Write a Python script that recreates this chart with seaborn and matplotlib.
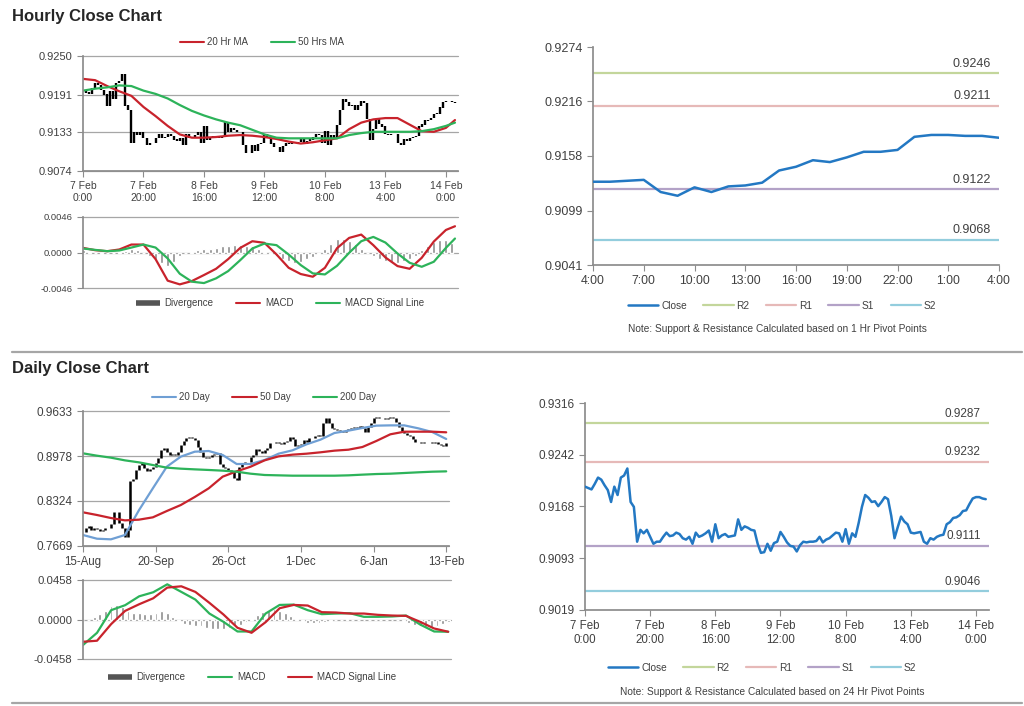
import numpy as np
import matplotlib
matplotlib.use("Agg")
import matplotlib.pyplot as plt
from matplotlib.lines import Line2D
import seaborn as sns

sns.set_theme(style="white")
plt.rcParams["font.family"] = ["Liberation Sans", "DejaVu Sans"]

W, H = 1024, 706

# ---------------- hourly data (7 Feb 0:00 -> 14 Feb ~3:00) ----------------
hourly_close = [
    0.9196, 0.9194, 0.9192, 0.9200, 0.9209, 0.9206, 0.9198, 0.9191, 0.9174, 0.9196,
    0.9184, 0.9209, 0.9212, 0.9222, 0.9174, 0.9167, 0.9117, 0.9134, 0.9129, 0.9134,
    0.9124, 0.9114, 0.9117, 0.9117, 0.9124, 0.9130, 0.9125, 0.9126, 0.9130, 0.9128,
    0.9122, 0.9120, 0.9124, 0.9114, 0.9130, 0.9124, 0.9126, 0.9129, 0.9133, 0.9117,
    0.9142, 0.9122, 0.9126, 0.9128, 0.9124, 0.9125, 0.9126, 0.9149, 0.9134, 0.9139,
    0.9137, 0.9134, 0.9133, 0.9114, 0.9101, 0.9102, 0.9114, 0.9104, 0.9115, 0.9117,
    0.9131, 0.9124, 0.9116, 0.9111, 0.9110, 0.9103, 0.9112, 0.9117, 0.9116, 0.9117,
    0.9117, 0.9118, 0.9124, 0.9116, 0.9120, 0.9122, 0.9126, 0.9130, 0.9129, 0.9117,
    0.9135, 0.9114, 0.9129, 0.9124, 0.9144, 0.9167, 0.9184, 0.9180, 0.9174, 0.9175,
    0.9168, 0.9174, 0.9181, 0.9178, 0.9154, 0.9122, 0.9138, 0.9153, 0.9146, 0.9142,
    0.9130, 0.9129, 0.9130, 0.9131, 0.9117, 0.9114, 0.9122, 0.9120, 0.9124, 0.9126,
    0.9127, 0.9142, 0.9145, 0.9151, 0.9152, 0.9155, 0.9161, 0.9162, 0.9171, 0.9179,
    0.9181, 0.9181, 0.9179, 0.9178]
hourly_idx = np.arange(len(hourly_close))

ma_hours = [0, 4, 8, 12, 16, 20, 24, 28, 32, 36, 40, 44, 48, 52, 56, 60,
            64, 68, 72, 76, 80, 84, 88, 92, 96, 100, 104, 108, 112, 116, 120, 123]
ma20_hr = [0.9215, 0.9213, 0.9204, 0.9196, 0.9189, 0.9172, 0.9158, 0.9143, 0.9130, 0.9125,
           0.9125, 0.9126, 0.9128, 0.9129, 0.9128, 0.9126, 0.9123, 0.9119, 0.9116, 0.9118,
           0.9121, 0.9124, 0.9138, 0.9148, 0.9153, 0.9155, 0.9155, 0.9145, 0.9135, 0.9134,
           0.9140, 0.9152]
ma50_hr = [0.9197, 0.9200, 0.9202, 0.9205, 0.9204, 0.9197, 0.9192, 0.9185, 0.9175, 0.9166,
           0.9159, 0.9153, 0.9148, 0.9144, 0.9137, 0.9130, 0.9125, 0.9124, 0.9124, 0.9124,
           0.9124, 0.9124, 0.9129, 0.9132, 0.9134, 0.9134, 0.9134, 0.9134, 0.9135, 0.9138,
           0.9143, 0.9148]
macd_hr = [0.00060, 0.00030, 0.00017, 0.00039, 0.00103, 0.00103, -0.00086, -0.00365,
           -0.00413, -0.00370, -0.00292, -0.00211, -0.00086, 0.00060, 0.00146, 0.00125,
           -0.00026, -0.00198, -0.00279, -0.00314, -0.00198, 0.00056, 0.00189, 0.00232,
           0.00095, -0.00064, -0.00176, -0.00211, -0.00069, 0.00142, 0.00292, 0.00340]
signal_hr = [0.00052, 0.00034, 0.00017, 0.00026, 0.00064, 0.00103, 0.00064, -0.00077,
             -0.00275, -0.00378, -0.00396, -0.00335, -0.00241, -0.00099, 0.00052, 0.00116,
             0.00095, -0.00026, -0.00163, -0.00271, -0.00284, -0.00172, -0.00004, 0.00146,
             0.00202, 0.00129, -0.00013, -0.00133, -0.00185, -0.00120, 0.00060, 0.00181]
div_hours = list(range(0, 124, 2))
div_hr = [0.0003, 0.0001, -0.0001, -0.0002, -0.0001, 0.0000, 0.0001, 0.0002, 0.0004, 0.0003,
          0.0000, -0.0004, -0.0009, -0.0014, -0.0018, -0.0012, -0.0005, -0.0001, 0.0001, 0.0003,
          0.0004, 0.0005, 0.0006, 0.0008, 0.0009, 0.0010, 0.0010, 0.0009, 0.0008, 0.0004,
          0.0001, -0.0002, -0.0005, -0.0008, -0.0011, -0.0013, -0.0012, -0.0009, -0.0006, -0.0002,
          0.0004, 0.0011, 0.0017, 0.0017, 0.0015, 0.0011, 0.0005, 0.0000, -0.0004, -0.0008,
          -0.0011, -0.0012, -0.0013, -0.0011, -0.0008, -0.0004, 0.0003, 0.0009, 0.0014, 0.0016,
          0.0016, 0.0012]
hour_ticks = [0, 20, 40, 60, 80, 100, 120]
hour_labels = ["7 Feb\n0:00", "7 Feb\n20:00", "8 Feb\n16:00", "9 Feb\n12:00",
               "10 Feb\n8:00", "13 Feb\n4:00", "14 Feb\n0:00"]

# last 24 hours (4:00 -> 4:00)
last24_close = [0.9130, 0.9130, 0.9131, 0.9132, 0.9119, 0.9115, 0.9124, 0.9119, 0.9125,
                0.9126, 0.9129, 0.9142, 0.9146, 0.9153, 0.9151, 0.9156, 0.9162, 0.9162,
                0.9164, 0.9178, 0.9180, 0.9180, 0.9179, 0.9179, 0.9177]
last24_labels = ["4:00", "7:00", "10:00", "13:00", "16:00", "19:00", "22:00", "1:00", "4:00"]

pivot_names = ["R2", "R1", "S1", "S2"]
pivots_1hr = [0.9246, 0.9211, 0.9122, 0.9068]
pivots_24hr = [0.9287, 0.9232, 0.9111, 0.9046]
pivot_colors = ["#c3d69b", "#e6b9b8", "#b3a2c7", "#93cddd"]

# ---------------- daily data (15-Aug -> 13-Feb) ----------------
daily_close = [
    0.7877, 0.7936, 0.7955, 0.7906, 0.7926, 0.7916, 0.7887, 0.7906, 0.7926, 0.7936,
    0.7984, 0.8168, 0.8168, 0.7999, 0.7926, 0.7805, 0.7902, 0.8615, 0.8644, 0.8775,
    0.8847, 0.8872, 0.8799, 0.8760, 0.8789, 0.8823, 0.8872, 0.8944, 0.9066, 0.9090,
    0.9032, 0.8993, 0.9012, 0.8993, 0.9041, 0.9138, 0.9197, 0.9235, 0.9260, 0.9245,
    0.9211, 0.9114, 0.9041, 0.8969, 0.8944, 0.8969, 0.8993, 0.9003, 0.9017, 0.8857,
    0.8823, 0.8799, 0.8775, 0.8741, 0.8663, 0.8629, 0.8823, 0.8872, 0.8886, 0.8896,
    0.8969, 0.8993, 0.9080, 0.9051, 0.9017, 0.9066, 0.9100, 0.9162, 0.9162, 0.9187,
    0.9162, 0.9158, 0.9177, 0.9197, 0.9260, 0.9226, 0.9129, 0.9138, 0.9148, 0.9211,
    0.9177, 0.9245, 0.9235, 0.9274, 0.9284, 0.9274, 0.9454, 0.9526, 0.9454, 0.9391,
    0.9371, 0.9352, 0.9342, 0.9332, 0.9357, 0.9371, 0.9381, 0.9405, 0.9391, 0.9410,
    0.9381, 0.9332, 0.9405, 0.9454, 0.9526, 0.9551, 0.9536, 0.9526, 0.9517, 0.9526,
    0.9546, 0.9526, 0.9468, 0.9405, 0.9342, 0.9308, 0.9284, 0.9274, 0.9226, 0.9177,
    0.9177, 0.9162, 0.9177, 0.9177, 0.9177, 0.9162, 0.9187, 0.9148, 0.9138, 0.9129,
    0.9162]
daily_idx = np.arange(len(daily_close))

ma_days = list(range(0, 131, 5))
ma20_day = [0.7829, 0.7775, 0.7766, 0.7829, 0.8188, 0.8508, 0.8823, 0.8969, 0.9041, 0.9051,
            0.8993, 0.8862, 0.8862, 0.8920, 0.9012, 0.9061, 0.9148, 0.9216, 0.9313, 0.9347,
            0.9386, 0.9420, 0.9424, 0.9424, 0.9381, 0.9327, 0.9226]
ma50_day = [0.8159, 0.8120, 0.8076, 0.8042, 0.8052, 0.8086, 0.8178, 0.8265, 0.8382, 0.8508,
            0.8678, 0.8755, 0.8823, 0.8915, 0.8973, 0.8998, 0.9012, 0.9032, 0.9056, 0.9070,
            0.9109, 0.9197, 0.9294, 0.9332, 0.9332, 0.9332, 0.9323]
ma200_day = [0.9017, 0.8983, 0.8954, 0.8915, 0.8886, 0.8847, 0.8809, 0.8794, 0.8784, 0.8775,
             0.8765, 0.8750, 0.8721, 0.8702, 0.8697, 0.8692, 0.8692, 0.8692, 0.8692, 0.8697,
             0.8707, 0.8716, 0.8721, 0.8731, 0.8741, 0.8750, 0.8755]
macd_day = [-0.0296, -0.0154, 0.0108, 0.0166, 0.0269, 0.0316, 0.0408, 0.0320, 0.0231, 0.0069,
            -0.0027, -0.0139, -0.0139, 0.0069, 0.0169, 0.0173, 0.0108, 0.0062, 0.0069, 0.0073,
            0.0031, 0.0031, 0.0035, 0.0046, -0.0058, -0.0139, -0.0142]
signal_day = [-0.0258, -0.0246, -0.0054, 0.0100, 0.0177, 0.0246, 0.0370, 0.0385, 0.0320, 0.0193,
              0.0058, -0.0096, -0.0154, -0.0031, 0.0131, 0.0169, 0.0162, 0.0085, 0.0081, 0.0069,
              0.0069, 0.0054, 0.0046, 0.0042, -0.0027, -0.0104, -0.0142]
div_days = list(range(0, 131, 2))
div_day = [-0.001, 0.000, 0.003, 0.006, 0.010, 0.016, 0.017, 0.014, 0.010, 0.008,
           0.007, 0.006, 0.006, 0.007, 0.010, 0.008, 0.003, -0.002, -0.005, -0.006,
           -0.007, -0.008, -0.010, -0.011, -0.011, -0.011, -0.010, -0.008, -0.006, -0.003,
           0.001, 0.005, 0.009, 0.011, 0.012, 0.010, 0.007, 0.004, 0.001, -0.002,
           -0.004, -0.004, -0.004, -0.003, -0.002, -0.001, 0.000, 0.001, 0.000, -0.001,
           -0.001, -0.001, -0.001, -0.001, -0.001, -0.001, -0.001, -0.002, -0.004, -0.006,
           -0.008, -0.009, -0.009, -0.008, -0.005, -0.003]
day_ticks = [0, 26, 52, 78, 104, 130]
day_labels = ["15-Aug", "20-Sep", "26-Oct", "1-Dec", "6-Jan", "13-Feb"]

RED = "#c8232c"
GREEN = "#2db35a"
BLUE = "#2378c3"
LBLUE = "#6f9fd4"
GREY_TXT = "#404040"

fig = plt.figure(figsize=(W / 100, H / 100), dpi=100)


def px_axes(x0, y0, x1, y1):
    return fig.add_axes([x0 / W, 1 - y1 / H, (x1 - x0) / W, (y1 - y0) / H])


def style(ax, fs, grid=True, xticks=True):
    for s in ["top", "right"]:
        ax.spines[s].set_visible(False)
    ax.spines["left"].set_color("#8c8c8c")
    ax.spines["bottom"].set_color("#8c8c8c")
    ax.tick_params(axis="both", colors="#8c8c8c", labelcolor=GREY_TXT, labelsize=fs,
                   direction="out", length=4, width=0.8, left=True, bottom=xticks)
    if grid:
        ax.yaxis.grid(True, color="#a6a6a6", lw=0.9)
        ax.set_axisbelow(True)
        for gl in ax.get_ygridlines():
            gl.set_clip_on(False)
    ax.set_xlabel("")
    ax.set_ylabel("")


def bars(ax, x, close, lw):
    close = np.asarray(close)
    opens = np.r_[close[0], close[:-1]]
    ax.vlines(x, np.minimum(opens, close), np.maximum(opens, close) + 0.00003,
              color="black", lw=lw)


def legend(handles, labels, cx, cy, fs=7, hl=2.5, cs=2.3, tp=0.3):
    leg = fig.legend(handles, labels, loc="center", bbox_to_anchor=(cx / W, 1 - cy / H),
                     ncol=len(labels), frameon=False, fontsize=fs, handlelength=hl,
                     columnspacing=cs, handletextpad=tp)
    for t in leg.get_texts():
        t.set_color(GREY_TXT)


def line(c, lw=1.5):
    return Line2D([], [], color=c, lw=lw)


def thick():
    return Line2D([], [], color="#555555", lw=4, solid_capstyle="butt")


# ---------------- top-left: hourly price ----------------
ax = px_axes(83, 56, 458, 171)
bars(ax, hourly_idx, hourly_close, 1.7)
sns.lineplot(x=ma_hours, y=ma20_hr, ax=ax, color=RED, lw=1.6)
sns.lineplot(x=ma_hours, y=ma50_hr, ax=ax, color=GREEN, lw=1.6)
ax.set_xlim(0, 124)
ax.set_ylim(0.9074, 0.9250)
ax.set_yticks([0.9074, 0.9133, 0.9191, 0.9250])
ax.set_yticklabels(["0.9074", "0.9133", "0.9191", "0.9250"])
ax.set_xticks(hour_ticks)
ax.set_xticklabels(hour_labels, linespacing=1.15)
style(ax, 7.5)
ax.tick_params(axis="y", labelsize=8)
legend([line(RED), line(GREEN)], ["20 Hr MA", "50 Hrs MA"], 262, 42)

# ---------------- top-left: hourly MACD ----------------
ax = px_axes(83, 217, 458, 288)
ax.bar(div_hours, div_hr, width=1.0, color="#8c8c8c")
sns.lineplot(x=ma_hours, y=macd_hr, ax=ax, color=RED, lw=1.6)
sns.lineplot(x=ma_hours, y=signal_hr, ax=ax, color=GREEN, lw=1.6)
ax.set_xlim(0, 124)
ax.set_ylim(-0.0046, 0.0046)
ax.set_yticks([-0.0046, 0.0, 0.0046])
ax.set_yticklabels(["-0.0046", "0.0000", "0.0046"])
ax.set_xticks([])
style(ax, 6.8, xticks=False)
ax.spines["bottom"].set_visible(False)
legend([thick(), line(RED), line(GREEN)],
       ["Divergence", "MACD", "MACD Signal Line"], 280, 303, tp=0.5)

# ---------------- right charts: close with pivots ----------------
def pivot_chart(rect, x, close, levels, xlim, ylim, yticks, xticks, xlabels, fs_y, fs_x):
    ax = px_axes(*rect)
    for lv, c in zip(levels, pivot_colors):
        ax.axhline(lv, color=c, lw=1.6, zorder=1)
        ax.annotate(f"{lv:.4f}", xy=(1, lv), xycoords=("axes fraction", "data"),
                    xytext=(-6, 2.5), textcoords="offset points", ha="right", va="bottom",
                    fontsize=fs_y, color=GREY_TXT)
    sns.lineplot(x=x, y=close, ax=ax, color=BLUE, lw=1.8, zorder=3)
    ax.set_xlim(*xlim)
    ax.set_ylim(*ylim)
    ax.set_yticks(yticks)
    ax.set_yticklabels([f"{v:.4f}" for v in yticks])
    ax.set_xticks(xticks)
    ax.set_xticklabels(xlabels, linespacing=1.15)
    style(ax, fs_x, grid=False)
    ax.tick_params(axis="y", labelsize=fs_y)
    return ax


pivot_chart((593, 47, 999, 265), np.arange(len(last24_close)), last24_close, pivots_1hr,
            (0, 24), (0.9041, 0.9274), [0.9041, 0.9099, 0.9158, 0.9216, 0.9274],
            list(range(0, 25, 3)), last24_labels, 9, 8.8)
legend([line(BLUE, 1.8)] + [line(c, 1.6) for c in pivot_colors], ["Close"] + pivot_names,
       782, 306, fs=7.3, hl=3.0, cs=1.6)
fig.text(777 / W, 1 - 329 / H, "Note: Support & Resistance Calculated based on 1 Hr Pivot Points",
         ha="center", va="center", fontsize=7.3, color=GREY_TXT)

pivot_chart((585, 403, 989, 610), hourly_idx, hourly_close, pivots_24hr,
            (0, 124), (0.9019, 0.9316), [0.9019, 0.9093, 0.9168, 0.9242, 0.9316],
            hour_ticks, hour_labels, 8.5, 8.3)
legend([line(BLUE, 1.8)] + [line(c, 1.6) for c in pivot_colors], ["Close"] + pivot_names,
       762, 668, fs=7.3, hl=3.0, cs=1.6)
fig.text(772 / W, 1 - 692 / H, "Note: Support & Resistance Calculated based on 24 Hr Pivot Points",
         ha="center", va="center", fontsize=7.3, color=GREY_TXT)

# ---------------- bottom-left: daily price ----------------
ax = px_axes(83, 411, 449, 546)
bars(ax, daily_idx, daily_close, 1.8)
sns.lineplot(x=ma_days, y=ma20_day, ax=ax, color=LBLUE, lw=1.6)
sns.lineplot(x=ma_days, y=ma50_day, ax=ax, color=RED, lw=1.6)
sns.lineplot(x=ma_days, y=ma200_day, ax=ax, color=GREEN, lw=1.6)
ax.set_xlim(0, 131)
ax.set_ylim(0.7669, 0.9633)
ax.set_yticks([0.7669, 0.8324, 0.8978, 0.9633])
ax.set_yticklabels(["0.7669", "0.8324", "0.8978", "0.9633"])
ax.set_xticks(day_ticks)
ax.set_xticklabels(day_labels)
style(ax, 8.3)
ax.tick_params(axis="y", labelsize=8.5)
legend([line(LBLUE), line(RED), line(GREEN)], ["20 Day", "50 Day", "200 Day"], 264, 397)

# ---------------- bottom-left: daily MACD ----------------
ax = px_axes(83, 580, 451, 659)
ax.bar(div_days, div_day, width=1.0, color="#8c8c8c")
sns.lineplot(x=ma_days, y=macd_day, ax=ax, color=GREEN, lw=1.6)
sns.lineplot(x=ma_days, y=signal_day, ax=ax, color=RED, lw=1.6)
ax.set_xlim(0, 131)
ax.set_ylim(-0.0458, 0.0458)
ax.set_yticks([-0.0458, 0.0, 0.0458])
ax.set_yticklabels(["-0.0458", "0.0000", "0.0458"])
ax.set_xticks([])
style(ax, 8.2, xticks=False)
ax.spines["bottom"].set_visible(False)
legend([thick(), line(GREEN), line(RED)],
       ["Divergence", "MACD", "MACD Signal Line"], 252, 677, tp=0.5)

# ---------------- titles & separators ----------------
fig.text(12 / W, 1 - 16 / H, "Hourly Close Chart", fontsize=12, fontweight="bold",
         color="#262626", va="center")
fig.text(12 / W, 1 - 369 / H, "Daily Close Chart", fontsize=12, fontweight="bold",
         color="#262626", va="center")
for yy in (352, 703):
    fig.add_artist(Line2D([12 / W, 1022 / W], [1 - yy / H, 1 - yy / H],
                          color="#a6a6a6", lw=1.6))

fig.savefig("out.png", dpi=100, facecolor="white")
